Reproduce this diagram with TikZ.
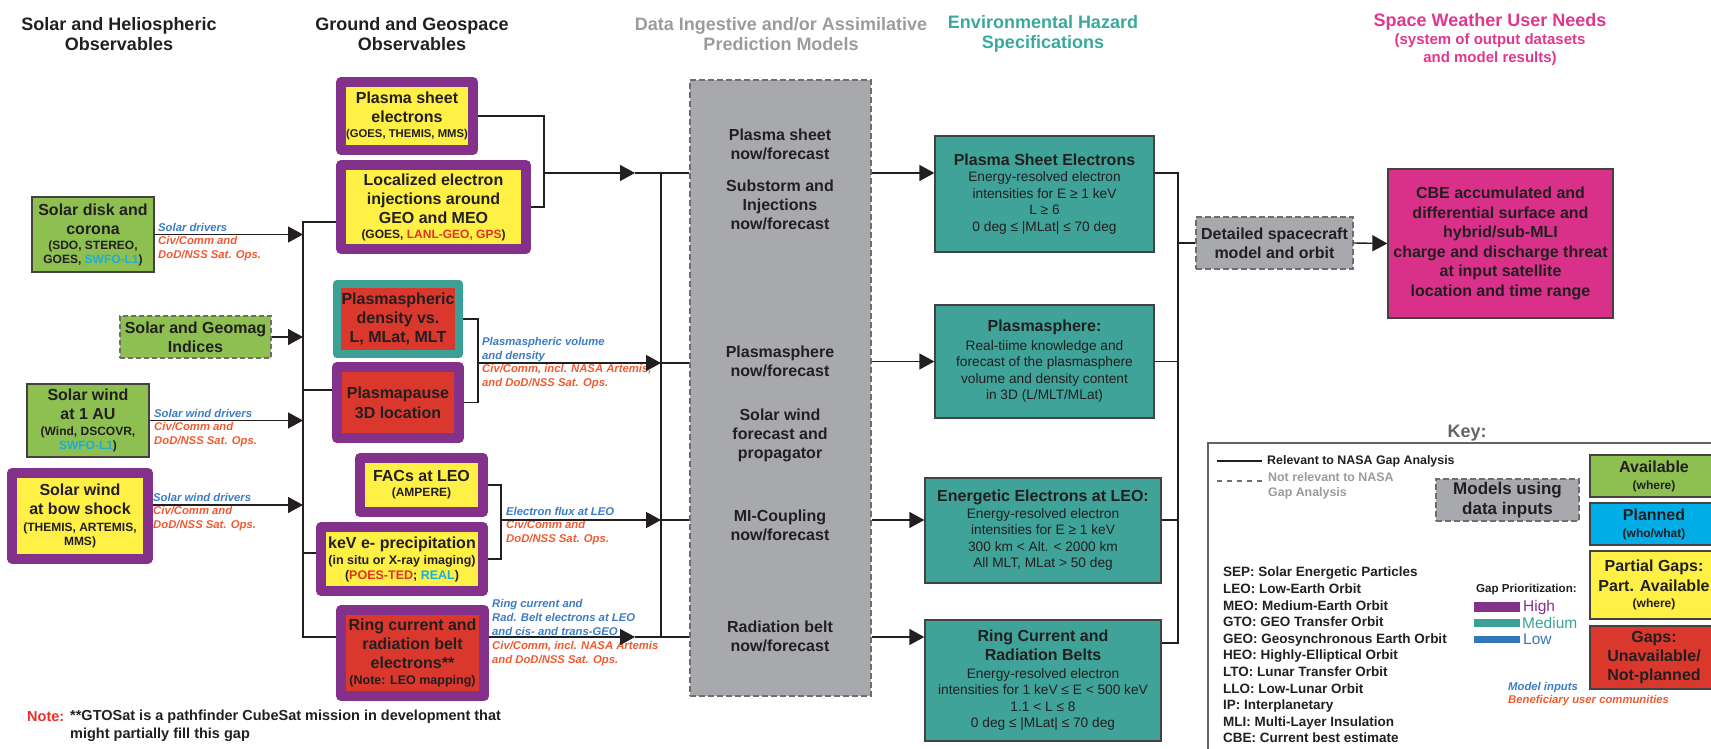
\documentclass[tikz,border=0pt]{standalone}
\usepackage{fontspec}
\setmainfont{Liberation Sans}
\usetikzlibrary{arrows.meta}

\definecolor{txt}{HTML}{231F20}
\definecolor{obsgreen}{HTML}{8DC050}
\definecolor{hiyellow}{HTML}{FFF045}
\definecolor{gapred}{HTML}{DA372D}
\definecolor{hipurple}{HTML}{84318B}
\definecolor{medteal}{HTML}{3BA096}
\definecolor{lowblue}{HTML}{3575BB}
\definecolor{planblue}{HTML}{00ADE6}
\definecolor{modgray}{HTML}{A8A9AD}
\definecolor{envteal}{HTML}{3FA399}
\definecolor{cbepink}{HTML}{D9308A}
\definecolor{labblue}{HTML}{3D7CC4}
\definecolor{laborange}{HTML}{F05A30}
\definecolor{cyantxt}{HTML}{1AAEDF}
\definecolor{redtxt}{HTML}{E8302A}
\definecolor{headgray}{HTML}{9B9B9F}
\definecolor{headteal}{HTML}{3AA99D}
\definecolor{headpink}{HTML}{E0378E}

\newcommand\fsz[2]{\fontsize{#1}{#2}\selectfont}
\newcommand\sm[1]{{\fsz{12}{14}#1}}

\begin{document}
\begin{tikzpicture}[x=1pt, y=-1pt,
    box/.style={rectangle, align=center, inner sep=0pt, text=txt, font=\fsz{16}{19}\bfseries},
    thin/.style={box, draw=txt!85, line width=1.3pt},
    hi/.style={box, fill=hiyellow, draw=hipurple, line width=10pt, line join=round},
    med/.style={box, fill=gapred, draw=medteal, line width=8pt, line join=round},
    model/.style={box, fill=modgray, draw=txt!65, line width=1.3pt, dash pattern=on 6pt off 3pt},
    env/.style={thin, fill=envteal, font=\fsz{13.7}{16.5}},
    mtxt/.style={align=center, inner sep=0pt, text=txt, font=\fsz{16}{19}\bfseries},
    head/.style={align=center, inner sep=0pt, font=\fsz{18}{20}\bfseries},
    lab/.style={anchor=west, align=left, inner sep=0pt, text=laborange, font=\fsz{11.3}{13.8}\bfseries\itshape},
    flow/.style={-{Triangle[length=15pt,width=16pt]}, line width=1.4pt, draw=txt},
    link/.style={line width=1.4pt, draw=txt},
    prio/.style={anchor=west, inner sep=0pt, font=\fsz{15.5}{18}}]

\useasboundingbox (0,0) rectangle (1711,749);
\clip (0,0) rectangle (1711,749);

% column headings
\node[head, text=txt] (h1) at (119,34) {Solar and Heliospheric\\Observables};
\node[head, text=txt] (h2) at (412,34) {Ground and Geospace\\Observables};
\node[head, text=headgray] (h3) at (781,34) {Data Ingestive and/or Assimilative\\Prediction Models};
\node[head, text=headteal] (h4) at (1043,34) {Environmental Hazard\\Specifications};
\node[head, text=headpink] (h5) at (1490,40) {Space Weather User Needs\\[-2pt]{\fsz{15}{18}(system of output datasets}\\[-2pt]{\fsz{15}{18}and model results)}};

% solar and heliospheric observables
\node[thin, fill=obsgreen, minimum width=122, minimum height=75] (disk) at (93,234.5)
  {Solar disk and\\corona\\[-4pt]\sm{(SDO, STEREO,}\\[-5pt]\sm{GOES, \textcolor{cyantxt}{SWFO-L1})}};
\node[box, fill=obsgreen, draw=txt!65, line width=1.3pt, dash pattern=on 5pt off 3pt,
  minimum width=151, minimum height=42] (geomag) at (195.5,337) {Solar and Geomag\\Indices};
\node[thin, fill=obsgreen, minimum width=122, minimum height=73] (sw1au) at (88,420.5)
  {Solar wind\\at 1 AU\\[-3pt]\sm{(Wind, DSCOVR,}\\[-5pt]\sm{\textcolor{cyantxt}{SWFO-L1})}};
\node[hi, minimum width=136, minimum height=85.5] (bowshock) at (80,515.75)
  {Solar wind\\at bow shock\\[-2pt]\sm{(THEMIS, ARTEMIS,}\\[-5pt]\sm{MMS)}};

% ground and geospace observables
\node[hi, minimum width=132, minimum height=68] (psheet) at (407,116)
  {Plasma sheet\\electrons\\[-4pt]{\fsz{11.3}{13}(GOES, THEMIS, MMS)}};
\node[hi, minimum width=185, minimum height=84] (inject) at (433.5,207)
  {Localized electron\\injections around\\GEO and MEO\\[-4pt]\sm{(GOES, \textcolor{redtxt}{LANL-GEO, GPS})}};
\node[med, minimum width=122, minimum height=70] (psdens) at (398,319)
  {Plasmaspheric\\density vs.\\L, MLat, MLT};
\node[hi, fill=gapred, minimum width=122, minimum height=71] (ppause) at (398,402.5)
  {Plasmapause\\[1pt]3D location};
\node[hi, minimum width=123, minimum height=54] (facs) at (421.5,485)
  {FACs at LEO\\[-4pt]\sm{(AMPERE)}};
\node[hi, minimum width=162, minimum height=64] (kev) at (402,559)
  {keV e- precipitation\\[-3pt]{\fsz{12.5}{14}(in situ or X-ray imaging)}\\[-4pt]{\fsz{12.5}{14}(\textcolor{redtxt}{POES-TED}; \textcolor{cyantxt}{REAL})}};
\node[hi, fill=gapred, minimum width=143, minimum height=86] (ring) at (412.5,653)
  {Ring current and\\radiation belt\\electrons**\\[-3pt]{\fsz{12.5}{14}(Note: LEO mapping)}};

% prediction models
\node[model, minimum width=181, minimum height=616] (models) at (780.5,388) {};
\node[mtxt] (mps) at (780,144.5) {Plasma sheet\\now/forecast};
\node[mtxt] (msub) at (780,205) {Substorm and\\Injections\\now/forecast};
\node[mtxt] (mpsph) at (780,361.5) {Plasmasphere\\now/forecast};
\node[mtxt] (msw) at (780,435) {Solar wind\\forecast and\\propagator};
\node[mtxt] (mmi) at (780,525.5) {MI-Coupling\\now/forecast};
\node[mtxt] (mrb) at (780,636.5) {Radiation belt\\now/forecast};

% environmental hazard specifications
\node[env, minimum width=219, minimum height=116] (psenv) at (1044.5,194)
  {\textbf{\fsz{16}{19}Plasma Sheet Electrons}\\Energy-resolved electron\\intensities for E ≥ 1 keV\\L ≥ 6\\0 deg ≤ \textbar MLat\textbar{} ≤ 70 deg};
\node[env, minimum width=219, minimum height=113] (psphenv) at (1044.5,361.5)
  {\textbf{\fsz{16}{19}Plasmasphere:}\\[2pt]Real-tiime knowledge and\\forecast of the plasmasphere\\volume and density content\\in 3D (L/MLT/MLat)};
\node[env, minimum width=236, minimum height=105] (leoenv) at (1043,530.5)
  {\textbf{\fsz{16}{19}Energetic Electrons at LEO:}\\Energy-resolved electron\\intensities for E ≥ 1 keV\\300 km < Alt. < 2000 km\\All MLT, MLat > 50 deg};
\node[env, minimum width=236, minimum height=121] (ringenv) at (1043,680.5)
  {\textbf{\fsz{16}{19}Ring Current and}\\[2.5pt]\textbf{\fsz{16}{19}Radiation Belts}\\[1pt]Energy-resolved electron\\intensities for 1 keV ≤ E < 500 keV\\1.1 < L ≤ 8\\0 deg ≤ \textbar MLat\textbar{} ≤ 70 deg};

% user needs
\node[model, minimum width=157, minimum height=52] (detail) at (1274.5,243) {Detailed spacecraft\\model and orbit};
\node[thin, fill=cbepink, minimum width=225, minimum height=149, font=\fsz{16}{19.5}\bfseries] (cbe) at (1500.5,243.5)
  {CBE accumulated and\\differential surface and\\hybrid/sub-MLI\\charge and discharge threat\\at input satellite\\location and time range};

% input labels
\node[lab] (dlab) at (158,242) {\textcolor{labblue}{Solar drivers}\\Civ/Comm and\\DoD/NSS Sat. Ops.};
\node[lab] (swlab) at (154,428) {\textcolor{labblue}{Solar wind drivers}\\Civ/Comm and\\DoD/NSS Sat. Ops.};
\node[lab] (bslab) at (153,512) {\textcolor{labblue}{Solar wind drivers}\\Civ/Comm and\\DoD/NSS Sat. Ops.};
\node[lab] (pslab) at (482,363) {\textcolor{labblue}{Plasmaspheric volume}\\\textcolor{labblue}{and density}\\Civ/Comm, incl. NASA Artemis,\\and DoD/NSS Sat. Ops.};
\node[lab] (leolab) at (506,526) {\textcolor{labblue}{Electron flux at LEO}\\Civ/Comm and\\DoD/NSS Sat. Ops.};
\node[lab] (rclab) at (492,632.5) {\textcolor{labblue}{Ring current and}\\\textcolor{labblue}{Rad. Belt electrons at LEO}\\\textcolor{labblue}{and cis- and trans-GEO}\\Civ/Comm, incl. NASA Artemis\\and DoD/NSS Sat. Ops.};

% bus points
\coordinate (lb1) at (303,222);
\coordinate (lb2) at (303,390);
\coordinate (lb3) at (303,553);
\coordinate (lb4) at (303,637);
\coordinate (ib4) at (303,505);
\coordinate (j1) at (544,173);
\coordinate (j2) at (478,363);
\coordinate (j3) at (501,520);
\coordinate (t1) at (635,173);
\coordinate (t4) at (635,637);
\coordinate (m1) at (661,173);
\coordinate (m2) at (661,363);
\coordinate (m3) at (661,520);
\coordinate (m4) at (661,637);
\coordinate (r1) at (1178,173);
\coordinate (r4) at (1178,643);

% observables into the left bus
\draw[flow] (disk.east) -- (disk.east -| lb1);
\draw[flow] (geomag.east) -- (geomag.east -| lb1);
\draw[flow] (sw1au.east) -- (sw1au.east -| lb1);
\draw[flow] (bowshock.east |- ib4) -- (ib4);
\draw[link] (inject.west |- lb1) -- (lb1) -- (lb4) -- (ring.west |- lb4);
\draw[link] (lb2) -- (ppause.west |- lb2);
\draw[link] (lb3) -- (kev.west |- lb3);

% geospace observables into models
\draw[link] (psheet.east) -| (j1) |- (inject.east);
\draw[flow] (j1) -- (t1);
\draw[link] (t1) -- (models.west |- t1);
\draw[link] (psdens.east) -| (j2) |- (ppause.east);
\draw[flow] (j2) -- (m2);
\draw[link] (m2) -- (models.west |- m2);
\draw[link] (facs.east) -| (j3) |- (kev.east);
\draw[flow] (j3) -- (m3);
\draw[link] (m3) -- (models.west |- m3);
\draw[flow] (ring.east |- t4) -- (t4);
\draw[link] (t4) -- (models.west |- t4);
\draw[link] (m1) -- (m4);

% models into hazard specs
\draw[flow] (models.east |- m1) -- (psenv.west |- m1);
\draw[flow] (models.east |- psphenv.west) -- (psphenv.west);
\draw[flow] (models.east |- m3) -- (leoenv.west |- m3);
\draw[flow] (models.east |- m4) -- (ringenv.west |- m4);

% hazard specs into user needs
\draw[link] (psenv.east |- r1) -- (r1) -- (r4) -- (ringenv.east |- r4);
\draw[link] (psphenv.east) -- (psphenv.east -| r1);
\draw[link] (leoenv.east |- m3) -- (m3 -| r1);
\draw[link] (detail.west -| r1) -- (detail.west);
\draw[flow] (detail.east) -- (cbe.west);

% key
\node[head, text=txt!70] (keyhd) at (1467,433) {Key:};
\draw[line width=2pt, draw=txt!70] (1711,443) -- (1208,443) -- (1208,752);
\node[anchor=west, inner sep=0pt, text=txt, font=\fsz{12.4}{15}\bfseries] (relv) at (1267,461) {Relevant to NASA Gap Analysis};
\draw[link] (1217,461) -- ([xshift=-5pt]relv.west);
\node[anchor=west, align=left, inner sep=0pt, text=headgray, font=\fsz{12.4}{15}\bfseries] (nrelv) at (1268,485.5) {Not relevant to NASA\\Gap Analysis};
\draw[link, draw=txt!65, dash pattern=on 5pt off 5pt] (1217,481) -- (1262,481);
\node[model, minimum width=143, minimum height=42, font=\fsz{17}{20}\bfseries] (kmod) at (1507.5,500) {Models using\\data inputs};
\node[thin, fill=obsgreen, minimum width=128, minimum height=42] (kavail) at (1654,476) {Available\\[-2pt]\sm{(where)}};
\node[thin, fill=planblue, minimum width=128, minimum height=42] (kplan) at (1654,524) {Planned\\[-2pt]\sm{(who/what)}};
\node[thin, fill=hiyellow, minimum width=128, minimum height=68] (kpart) at (1654,585) {Partial Gaps:\\[1pt]Part. Available\\[-3pt]\sm{(where)}};
\node[thin, fill=gapred, minimum width=128, minimum height=63] (kgap) at (1654,657.5) {Gaps:\\Unavailable/\\Not-planned};

\node[anchor=west, align=left, inner sep=0pt, text=txt, font=\fsz{13.5}{16.6}\bfseries] (abbr) at (1223,655)
  {SEP: Solar Energetic Particles\\LEO: Low-Earth Orbit\\MEO: Medium-Earth Orbit\\GTO: GEO Transfer Orbit\\GEO: Geosynchronous Earth Orbit\\HEO: Highly-Elliptical Orbit\\LTO: Lunar Transfer Orbit\\LLO: Low-Lunar Orbit\\IP: Interplanetary\\MLI: Multi-Layer Insulation\\CBE: Current best estimate};

\node[anchor=west, inner sep=0pt, text=txt, font=\fsz{11.6}{14}\bfseries] (gprio) at (1476,589) {Gap Prioritization:};
\node[prio, text=hipurple] (phigh) at (1523,607) {High};
\node[prio, text=medteal] (pmed) at (1522,623) {Medium};
\node[prio, text=lowblue] (plow) at (1523,639) {Low};
\draw[line width=10pt, draw=hipurple] ([xshift=-49pt]phigh.west) -- ([xshift=-3pt]phigh.west);
\draw[line width=8pt, draw=medteal] ([xshift=-48pt]pmed.west) -- ([xshift=-2pt]pmed.west);
\draw[line width=7pt, draw=lowblue] ([xshift=-49pt]plow.west) -- ([xshift=-3pt]plow.west);
\node[lab, text=labblue] (kin) at (1508,688) {Model inputs};
\node[lab] (kben) at (1508,701) {Beneficiary user communities};

% footnote
\node[anchor=west, inner sep=0pt, text=redtxt, font=\fsz{14.5}{18}\bfseries] (notehd) at (27,717) {Note:};
\node[anchor=west, align=left, inner sep=0pt, text=txt, font=\fsz{14.5}{18}\bfseries] (note) at (70,726)
  {**GTOSat is a pathfinder CubeSat mission in development that\\might partially fill this gap};

\end{tikzpicture}
\end{document}
